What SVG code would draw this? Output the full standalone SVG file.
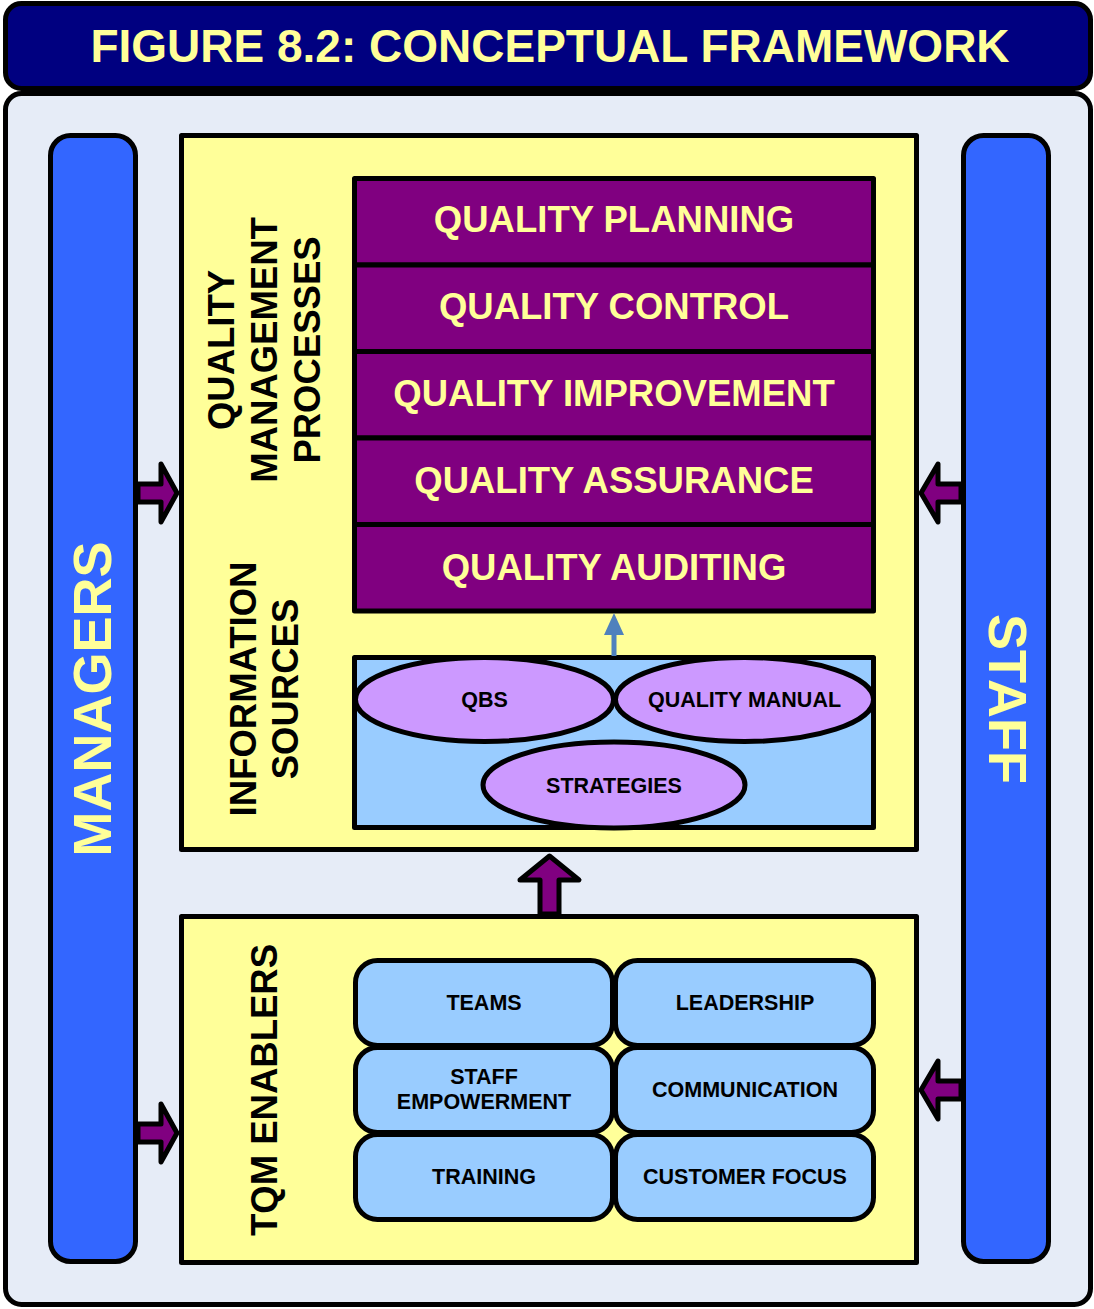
<svg xmlns="http://www.w3.org/2000/svg" width="1094" height="1309" viewBox="0 0 1094 1309">
<style>
.b{stroke:#000;stroke-width:5;stroke-linejoin:round}
.t{font-family:"Liberation Sans",Arial,sans-serif;font-weight:bold;text-anchor:middle}
.y{fill:#ffff99}
.k{fill:#000}
.pur{fill:#800080}
.cell{fill:#99ccff}
.ell{fill:#cc99ff}
.arr{fill:#800080;stroke:#000;stroke-width:5;stroke-linejoin:round}
</style>
<g id="title">
<rect class="b" x="5.5" y="3.5" width="1085" height="85" rx="16" fill="#000080"/>
<text class="t y" x="550" y="62" font-size="46">FIGURE 8.2: CONCEPTUAL FRAMEWORK</text>
</g>
<g id="background">
<rect class="b" x="5.5" y="93.5" width="1085" height="1211" rx="16" fill="#e6ecf7"/>
</g>
<g id="managers">
<rect class="b" x="50.5" y="135.5" width="85" height="1126" rx="20" fill="#3366ff"/>
<text class="t y" font-size="54" transform="translate(92,699) rotate(-90)" y="19">MANAGERS</text>
</g>
<g id="staff">
<rect class="b" x="963.5" y="135.5" width="85" height="1126" rx="20" fill="#3366ff"/>
<text class="t y" font-size="54" transform="translate(1008,699) rotate(90)" y="19">STAFF</text>
</g>
<g id="upper-panel">
<rect class="b" x="181.5" y="135.5" width="735" height="714" fill="#ffff99"/>
<g transform="translate(264,350) rotate(-90)">
<text class="t k" font-size="36.5" y="-30">QUALITY</text>
<text class="t k" font-size="36.5" y="13">MANAGEMENT</text>
<text class="t k" font-size="36.5" y="56">PROCESSES</text>
</g>
<g transform="translate(264,689) rotate(-90)">
<text class="t k" font-size="36.5" y="-8">INFORMATION</text>
<text class="t k" font-size="36.5" y="34">SOURCES</text>
</g>
</g>
<g id="quality-planning">
<rect class="b pur" x="354.5" y="178.5" width="519" height="86.5"/>
<text class="t y" x="614" y="232" font-size="36.5">QUALITY PLANNING</text>
</g>
<g id="quality-control">
<rect class="b pur" x="354.5" y="265" width="519" height="86.5"/>
<text class="t y" x="614" y="319" font-size="36.5">QUALITY CONTROL</text>
</g>
<g id="quality-improvement">
<rect class="b pur" x="354.5" y="351.5" width="519" height="86.5"/>
<text class="t y" x="614" y="406" font-size="36.5">QUALITY IMPROVEMENT</text>
</g>
<g id="quality-assurance">
<rect class="b pur" x="354.5" y="438" width="519" height="86.5"/>
<text class="t y" x="614" y="493" font-size="36.5">QUALITY ASSURANCE</text>
</g>
<g id="quality-auditing">
<rect class="b pur" x="354.5" y="524.5" width="519" height="86.5"/>
<text class="t y" x="614" y="580" font-size="36.5">QUALITY AUDITING</text>
</g>
<g id="information-sources">
<rect class="b" x="354.5" y="657.5" width="519" height="170" fill="#99ccff"/>
</g>
<g id="qbs">
<ellipse class="b ell" cx="484.5" cy="699.5" rx="129" ry="42"/>
<text class="t k" x="484.5" y="706.5" font-size="21.5">QBS</text>
</g>
<g id="quality-manual">
<ellipse class="b ell" cx="744.5" cy="699.5" rx="129" ry="42"/>
<text class="t k" x="744.5" y="706.5" font-size="21.5">QUALITY MANUAL</text>
</g>
<g id="strategies">
<ellipse class="b ell" cx="614" cy="785" rx="131" ry="43"/>
<text class="t k" x="614" y="792.5" font-size="21.5">STRATEGIES</text>
</g>
<g id="lower-panel">
<rect class="b" x="181.5" y="916.5" width="735" height="346" fill="#ffff99"/>
<text class="t k" font-size="36.5" transform="translate(264,1090) rotate(-90)" y="13">TQM ENABLERS</text>
</g>
<g id="teams">
<rect class="b cell" x="355.5" y="960.5" width="257" height="85" rx="22"/>
<text class="t k" x="484" y="1010" font-size="21.5">TEAMS</text>
</g>
<g id="leadership">
<rect class="b cell" x="615.5" y="960.5" width="258" height="85" rx="22"/>
<text class="t k" x="745" y="1010" font-size="21.5">LEADERSHIP</text>
</g>
<g id="staff-empowerment">
<rect class="b cell" x="355.5" y="1047.5" width="257" height="85" rx="22"/>
<text class="t k" x="484" y="1084" font-size="21.5">STAFF</text>
<text class="t k" x="484" y="1109" font-size="21.5">EMPOWERMENT</text>
</g>
<g id="communication">
<rect class="b cell" x="615.5" y="1047.5" width="258" height="85" rx="22"/>
<text class="t k" x="745" y="1097" font-size="21.5">COMMUNICATION</text>
</g>
<g id="training">
<rect class="b cell" x="355.5" y="1134.5" width="257" height="85" rx="22"/>
<text class="t k" x="484" y="1184" font-size="21.5">TRAINING</text>
</g>
<g id="customer-focus">
<rect class="b cell" x="615.5" y="1134.5" width="258" height="85" rx="22"/>
<text class="t k" x="745" y="1184" font-size="21.5">CUSTOMER FOCUS</text>
</g>
<g id="connectors">
<polygon class="arr" points="138,484 161,484 161,464 177,493 161,522 161,502 138,502"/>
<polygon class="arr" points="138,1124 161,1124 161,1104 177,1133 161,1162 161,1142 138,1142"/>
<polygon class="arr" points="961,484 938,484 938,464 921,493 938,522 938,502 961,502"/>
<polygon class="arr" points="961,1081 938,1081 938,1061 921,1090 938,1119 938,1099 961,1099"/>
<polygon class="arr" points="549.5,856 579,880 559,880 559,914 540,914 540,880 520,880"/>
<g fill="#4f81bd">
<rect x="611.5" y="632" width="5" height="24"/>
<polygon points="604,635 624,635 614,613"/>
</g>
</g>
</svg>
